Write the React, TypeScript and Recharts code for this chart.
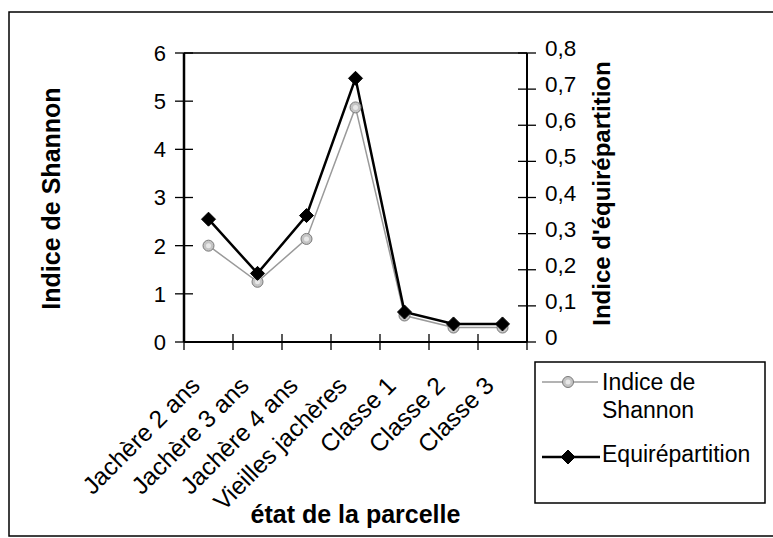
import React from 'react';
import { ComposedChart, Line, XAxis, YAxis, ReferenceLine, Label } from 'recharts';

const categories = ['Jachère 2 ans', 'Jachère 3 ans', 'Jachère 4 ans', 'Vieilles jachères', 'Classe 1', 'Classe 2', 'Classe 3'];
const shannonValues = [2.0, 1.25, 2.14, 4.87, 0.55, 0.3, 0.3];
const equiValues = [0.34, 0.19, 0.35, 0.73, 0.083, 0.05, 0.05];
const leftTicks = [0, 1, 2, 3, 4, 5, 6];
const rightTicks = [0, 0.1, 0.2, 0.3, 0.4, 0.5, 0.6, 0.7, 0.8];
const seriesNames = ['Indice de Shannon', 'Equirépartition'];
const leftTitle = 'Indice de Shannon';
const rightTitle = "Indice d'équirépartition";
const xTitle = 'état de la parcelle';

const data = categories.map((c, i) => ({ name: c, pos: i + 0.5, shannon: shannonValues[i], equi: equiValues[i] }));
const xTicks: number[] = [];
for (let i = 0; i <= categories.length; i++) {
  xTicks.push(i);
  if (i < categories.length) xTicks.push(i + 0.5);
}

const FONT = '"Liberation Sans", Arial, sans-serif';
const W = 773;
const H = 538;

const fmtRight = (v: number) => (v === 0 ? '0' : v.toFixed(1).replace('.', ','));

const ShannonDot = (props: any) => {
  const { cx, cy } = props;
  if (cx == null || cy == null) return null;
  return (
    <g>
      <circle cx={cx} cy={cy} r={5.5} fill="#c4c4c4" stroke="#7a7a7a" strokeWidth={1} />
      <circle cx={cx} cy={cy} r={2.5} fill="#e8e8e8" stroke="none" />
    </g>
  );
};

const Diamond = (props: any) => {
  const { cx, cy } = props;
  if (cx == null || cy == null) return null;
  const s = 7;
  return <polygon points={`${cx},${cy - s} ${cx + s},${cy} ${cx},${cy + s} ${cx - s},${cy}`} fill="#000" stroke="#000" strokeWidth={1} />;
};

const LeftTick = (props: any) => {
  const { x, y, payload } = props;
  return (
    <g>
      <line x1={x + 9} x2={x + 27} y1={y} y2={y} stroke="#000" strokeWidth={1.3} />
      <text x={x} y={y} dy="0.36em" textAnchor="end" fontFamily={FONT} fontSize={22} fill="#000">
        {payload.value}
      </text>
    </g>
  );
};

const RightTick = (props: any) => {
  const { x, y, payload } = props;
  return (
    <g>
      <line x1={x - 26} x2={x - 8} y1={y} y2={y} stroke="#000" strokeWidth={1.3} />
      <text x={x + 1} y={y - 5} dy="0.36em" textAnchor="start" fontFamily={FONT} fontSize={22.5} fill="#000">
        {fmtRight(payload.value)}
      </text>
    </g>
  );
};

const XTick = (props: any) => {
  const { x, y, payload } = props;
  const v = payload.value as number;
  if (Number.isInteger(v)) {
    return <line x1={x} x2={x} y1={y - 16} y2={y} stroke="#000" strokeWidth={1.3} />;
  }
  const label = categories[Math.floor(v)];
  const tx = x - 7;
  const ty = y + 37;
  return (
    <text x={tx} y={ty} textAnchor="end" transform={`rotate(-45, ${tx}, ${ty})`} fontFamily={FONT} fontSize={24.5} fill="#000">
      {label}
    </text>
  );
};

export default function App() {
  return (
    <div style={{ position: 'absolute', left: 0, top: 0, width: W, height: H, background: '#fff' }}>
      <ComposedChart width={W} height={H} data={data} margin={{ top: 53, right: 0, bottom: 0, left: 0 }}>
        <XAxis
          dataKey="pos"
          type="number"
          domain={[0, categories.length]}
          ticks={xTicks}
          interval={0}
          height={196}
          tickSize={8}
          tickMargin={0}
          tickLine={false}
          tick={<XTick />}
          axisLine={{ stroke: '#000', strokeWidth: 2 }}
        >
          <Label
            content={(p: any) => {
              const vb = p.viewBox;
              return (
                <text x={vb.x + vb.width / 2} y={vb.y + 181} textAnchor="middle" fontFamily={FONT} fontSize={25} fontWeight="bold" fill="#000">
                  {xTitle}
                </text>
              );
            }}
          />
        </XAxis>
        <YAxis
          yAxisId="left"
          orientation="left"
          width={184}
          domain={[0, 6]}
          ticks={leftTicks}
          interval={0}
          tickSize={9}
          tickMargin={9}
          tickLine={false}
          tick={<LeftTick />}
          axisLine={{ stroke: '#000', strokeWidth: 2.5 }}
        >
          <Label
            content={(p: any) => {
              const vb = p.viewBox;
              const tx = vb.x + 60;
              const ty = vb.y + vb.height / 2 + 1;
              return (
                <text x={tx} y={ty} textAnchor="middle" transform={`rotate(-90, ${tx}, ${ty})`} fontFamily={FONT} fontSize={25} fontWeight="bold" fill="#000">
                  {leftTitle}
                </text>
              );
            }}
          />
        </YAxis>
        <YAxis
          yAxisId="right"
          orientation="right"
          width={246}
          domain={[0, 0.8]}
          ticks={rightTicks}
          interval={0}
          tickSize={9}
          tickMargin={8}
          tickLine={false}
          tick={<RightTick />}
          axisLine={{ stroke: '#000', strokeWidth: 2 }}
        >
          <Label
            content={(p: any) => {
              const vb = p.viewBox;
              const tx = vb.x + 83;
              const ty = vb.y + vb.height / 2 - 4;
              return (
                <text x={tx} y={ty} textAnchor="middle" transform={`rotate(-90, ${tx}, ${ty})`} fontFamily={FONT} fontSize={24} fontWeight="bold" fill="#000">
                  {rightTitle}
                </text>
              );
            }}
          />
        </YAxis>
        <ReferenceLine yAxisId="left" y={6} stroke="#000" strokeWidth={1.5} />
        <Line
          yAxisId="left"
          dataKey="shannon"
          name={seriesNames[0]}
          stroke="#9a9a9a"
          strokeWidth={1.5}
          dot={<ShannonDot />}
          activeDot={false}
          isAnimationActive={false}
        />
        <Line
          yAxisId="right"
          dataKey="equi"
          name={seriesNames[1]}
          stroke="#000"
          strokeWidth={2.5}
          dot={<Diamond />}
          activeDot={false}
          isAnimationActive={false}
        />
      </ComposedChart>
      <svg width={W} height={H} style={{ position: 'absolute', left: 0, top: 0, pointerEvents: 'none' }}>
        <rect x={9} y={12} width={W + 20} height={524} fill="none" stroke="#000" strokeWidth={1.5} />
        <rect x={535} y={362} width={230} height={141} fill="none" stroke="#000" strokeWidth={1.5} />
        <line x1={542} x2={598} y1={382} y2={382} stroke="#9a9a9a" strokeWidth={1.5} />
        <ShannonDot cx={568} cy={382} />
        <text x={602} y={390} fontFamily={FONT} fontSize={23} fill="#000">
          <tspan x={602} y={390}>Indice de</tspan>
          <tspan x={602} y={418}>Shannon</tspan>
        </text>
        <line x1={542} x2={600} y1={457} y2={457} stroke="#000" strokeWidth={2.5} />
        <Diamond cx={568} cy={457} />
        <text x={602} y={462} fontFamily={FONT} fontSize={23} fill="#000">
          {seriesNames[1]}
        </text>
      </svg>
    </div>
  );
}
